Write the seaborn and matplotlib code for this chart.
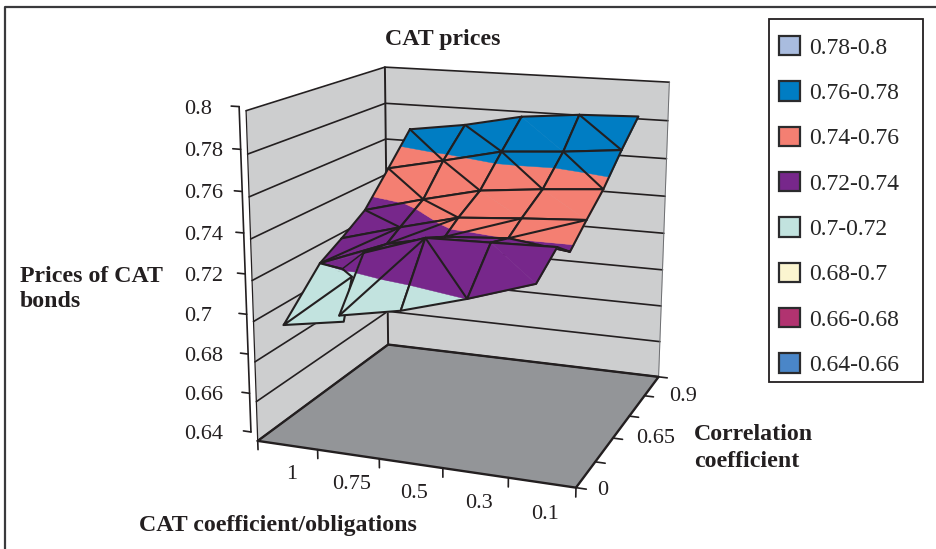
import numpy as np
import matplotlib
matplotlib.use("Agg")
import matplotlib.pyplot as plt
import seaborn as sns
from matplotlib.lines import Line2D
from matplotlib.patches import Patch, Rectangle
from mpl_toolkits.mplot3d import proj3d
from mpl_toolkits.mplot3d.art3d import Poly3DCollection

# category labels
cat_labels = ["1", "0.75", "0.5", "0.3", "0.1"]
corr_labels = ["0", "0.65", "0.9"]
corr_label_x = [5.38, 5.62, 5.60]
corr_label_y = [0.05, 2.2, 4.2]
z_ticks = [0.64, 0.66, 0.68, 0.70, 0.72, 0.74, 0.76, 0.78, 0.80]
z_tick_labels = ["0.64", "0.66", "0.68", "0.7", "0.72", "0.74", "0.76", "0.78", "0.8"]

band_edges = [0.64, 0.66, 0.68, 0.70, 0.72, 0.74, 0.76, 0.78, 0.80]
band_labels = ["0.64-0.66", "0.66-0.68", "0.68-0.7", "0.7-0.72",
               "0.72-0.74", "0.74-0.76", "0.76-0.78", "0.78-0.8"]
band_hex = ["#4A86C8", "#B13370", "#FBF5D0", "#C2E3DF",
            "#77278B", "#F47F72", "#007DC3", "#A9BCDF"]

# surface, back row first
surf_x = [[0.50, 1.50, 2.50, 3.474, 4.44],
          [0.50, 1.50, 2.50, 3.50, 4.50],
          [0.50, 1.50, 2.50, 3.50, 4.50],
          [0.50, 1.50, 2.50, 3.50, 4.50],
          [0.50, 1.50, 2.50, 3.50, 4.50],
          [0.995, 1.235, 2.235, 3.285, 4.315],
          [0.52, 1.257, 2.257, 3.287, 4.327]]
surf_y = [[4.90, 4.94, 4.98, 5.10, 5.27],
          [3.94, 3.91, 3.96, 4.11, 3.98],
          [2.96, 3.02, 2.93, 3.03, 2.93],
          [2.05, 2.05, 1.96, 1.99, 2.02],
          [1.25, 1.52, 1.39, 1.38, 1.18],
          [1.006, 1.25, 1.27, 1.22, 1.16],
          [-0.045, 0.30, 0.25, 0.22, 0.14]]
surf_z = [[0.7670, 0.7712, 0.7774, 0.7797, 0.7798],
          [0.7509, 0.7575, 0.7642, 0.7655, 0.7692],
          [0.7348, 0.7426, 0.7502, 0.7527, 0.7558],
          [0.7265, 0.7349, 0.7431, 0.7452, 0.7469],
          [0.7199, 0.7304, 0.7378, 0.7400, 0.7380],
          [0.7205, 0.7273, 0.7374, 0.7385, 0.7398],
          [0.7005, 0.7045, 0.7107, 0.7200, 0.7310]]
# which diagonal Excel drew in each cell: 1 "\", -1 "/", 0 none
cell_diag = [[1, 1, 0, 1],
             [1, 1, 1, 1],
             [1, 1, 0, 0],
             [-1, -1, -1, -1],
             [0, 0, 0, 0],
             [-1, -1, 1, 0]]
# the front left corner folds behind the front row
flap_x = [1.187, 1.49]
flap_y = [0.918, -0.045]
flap_z = [0.7180, 0.7055]

sns.set_theme(style="white")
plt.rcParams["font.family"] = ["Liberation Serif", "DejaVu Serif"]
palette = sns.color_palette(band_hex)
ink = "#231F20"
fs = 16
fs_bold = 17.2

fig = plt.figure(figsize=(9.36, 5.49), dpi=100)
ax = fig.add_axes([193.9 / 936, 16.95 / 549, 538.6 / 936, 538.6 / 549], projection="3d")
ax.set_xlim(0, 5)
ax.set_ylim(0, 5)
ax.set_zlim(0.64, 0.80)
ax.autoscale(False)
ax.view_init(elev=14.722, azim=-69.877, roll=-0.167)
ax.set_proj_type("persp", focal_length=0.5185)
ax.set_box_aspect((0.9921, 0.9918, 0.9986))
ax.set_axis_off()
ax.computed_zorder = False
ax.patch.set_visible(False)


def add_poly(verts, face, edge="none", lw=0.0, zorder=1):
    ax.add_collection3d(Poly3DCollection([verts], facecolors=[face], edgecolors=[edge],
                                         linewidths=lw, zorder=zorder), autolim=False)


def add_line(pts, lw=1.5, color=ink, zorder=3):
    p = np.array(pts)
    ax.plot(p[:, 0], p[:, 1], p[:, 2], color=color, lw=lw, zorder=zorder,
            solid_capstyle="round", clip_on=False)


def clip_band(tri, lo, hi):
    # clip a triangle to lo <= z <= hi
    poly = [np.array(v, float) for v in tri]
    for level, keep in ((lo, 1), (hi, -1)):
        out = []
        for i in range(len(poly)):
            a, b = poly[i], poly[(i + 1) % len(poly)]
            da, db = keep * (a[2] - level), keep * (b[2] - level)
            if da >= 0:
                out.append(a)
            if da * db < 0:
                out.append(a + (b - a) * da / (da - db))
        poly = out
        if not poly:
            break
    return poly


def fill_tri(tri, zorder):
    for k, col in enumerate(palette):
        poly = clip_band(tri, band_edges[k], band_edges[k + 1])
        if len(poly) >= 3:
            add_poly([tuple(v) for v in poly], col, edge=col, lw=0.3, zorder=zorder)


# walls and floor
wall = "#CDCECF"
add_poly([(0, 0, .64), (0, 5, .64), (0, 5, .80), (0, 0, .80)], wall, zorder=1)
add_poly([(0, 5, .64), (5, 5, .64), (5, 5, .80), (0, 5, .80)], wall, zorder=1)
add_poly([(0, 0, .64), (5, 0, .64), (5, 5, .64), (0, 5, .64)], "#939598", zorder=1)
for z in z_ticks:
    add_line([(0, 0, z), (0, 5, z), (5, 5, z)], lw=1.2, zorder=2)
add_line([(0, 0, .64), (0, 0, .80)], lw=0.9, zorder=2)
add_line([(0, 5, .64), (0, 5, .80)], lw=1.4, zorder=2)
add_line([(5, 5, .64), (5, 5, .80)], lw=0.7, color="#6D6E71", zorder=2)
add_line([(0, 0, .64), (5, 0, .64), (5, 5, .64), (0, 5, .64), (0, 0, .64)], lw=1.7, zorder=2)

# surface, painted from the back row to the front row
sx, sy, sz = np.array(surf_x), np.array(surf_y), np.array(surf_z)
order = 3
for r in range(sx.shape[0] - 1):
    for c in range(sx.shape[1] - 1):
        a = (sx[r, c], sy[r, c], sz[r, c])
        b = (sx[r, c + 1], sy[r, c + 1], sz[r, c + 1])
        d = (sx[r + 1, c], sy[r + 1, c], sz[r + 1, c])
        e = (sx[r + 1, c + 1], sy[r + 1, c + 1], sz[r + 1, c + 1])
        if r == 5 and c == 0:
            # fold: a = top of flap, b = lobe corner, d = front left point
            top = (sx[4, 0], sy[4, 0], sz[4, 0])
            f1 = (flap_x[0], flap_y[0], flap_z[0])
            f2 = (flap_x[1], flap_y[1], flap_z[1])
            fill_tri((a, b, f1), order)
            fill_tri((top, a, f1), order)
            fill_tri((top, f1, d), order)
            fill_tri((f1, f2, d), order)
            order += 1
            add_line([top, d, f2, f1, d], lw=1.5, zorder=order)
            add_line([top, a, f1], lw=1.5, zorder=order)
            order += 1
            continue
        flag = cell_diag[r][c]
        tris = [(a, d, b), (b, d, e)] if flag == -1 else [(a, b, e), (a, e, d)]
        for tri in tris:
            fill_tri(tri, order)
        order += 1
        add_line([a, b, e, d, a], lw=1.5, zorder=order)
        if flag == 1:
            add_line([a, e], lw=1.5, zorder=order)
        elif flag == -1:
            add_line([b, d], lw=1.5, zorder=order)
        order += 1

# axes drawn by hand, Excel style
axis_x, axis_y = -0.27, 0.29
add_line([(axis_x, axis_y, .64), (axis_x, axis_y, .80)], lw=1.2, zorder=2)
for z in z_ticks:
    add_line([(axis_x, axis_y, z), (axis_x - 0.13, axis_y, z)], lw=1.2, zorder=2)
for i in range(6):
    add_line([(i, 0, .64), (i, 0, .64 - 0.0045)], lw=1.2, zorder=2)
    add_line([(5, i, .64), (5.15, i, .64)], lw=1.2, zorder=2)

ax.apply_aspect()


def to_fig(x, y, z):
    u, v, _ = proj3d.proj_transform(x, y, z, ax.get_proj())
    px = ax.transData.transform((u, v))
    return fig.transFigure.inverted().transform(px)


for z, lab in zip(z_ticks, z_tick_labels):
    fy = to_fig(axis_x, axis_y, z)[1] - 2.5 / 549
    fig.text(184 / 936, fy, lab, ha="left", va="center", fontsize=fs, color=ink)
for c, lab in enumerate(cat_labels):
    fx, fy = to_fig(c + 0.55, 0, 0.64 - 0.0150)
    fig.text(fx, fy, lab, ha="center", va="center", fontsize=fs, color=ink)
for x, y, lab in zip(corr_label_x, corr_label_y, corr_labels):
    fx, fy = to_fig(x, y, 0.64)
    fig.text(fx, fy, lab, ha="center", va="center", fontsize=fs, color=ink)

# titles
fig.text(443 / 936, 1 - 39 / 549, "CAT prices", ha="center", va="center",
         fontsize=fs_bold, fontweight="bold", color=ink)
fig.text(20 / 936, 1 - 289 / 549, "Prices of CAT\nbonds", ha="left", va="center",
         fontsize=fs_bold, fontweight="bold", color=ink, linespacing=1.25)
fig.text(694 / 936, 1 - 448 / 549, "Correlation\ncoefficient", ha="left", va="center",
         fontsize=fs_bold, fontweight="bold", color=ink, linespacing=1.42)
fig.text(139 / 936, 1 - 525 / 549, "CAT coefficient/obligations", ha="left", va="center",
         fontsize=fs_bold, fontweight="bold", color=ink)

# chart frame and legend box
fig.add_artist(Line2D([5 / 936, 5 / 936, 1], [0, 1 - 7 / 549, 1 - 7 / 549],
                      color="#3A3A3C", lw=1.6, transform=fig.transFigure))
fig.add_artist(Rectangle((769 / 936, 1 - 382 / 549), 154 / 936, 363 / 549, fill=False,
                         edgecolor=ink, lw=1.3, transform=fig.transFigure))
handles = [Patch(facecolor=col, edgecolor="#2B2B2D", lw=1.6, label=lab)
           for col, lab in zip(palette[::-1], band_labels[::-1])]
fig.legend(handles=handles, loc="upper left", frameon=False, fontsize=17,
           bbox_to_anchor=(779 / 936, 1 - 36 / 549), bbox_transform=fig.transFigure,
           borderpad=0, borderaxespad=0, handlelength=0.89, handleheight=0.89,
           handletextpad=0.38, labelspacing=0.95)

fig.savefig("out.png", dpi=100)
